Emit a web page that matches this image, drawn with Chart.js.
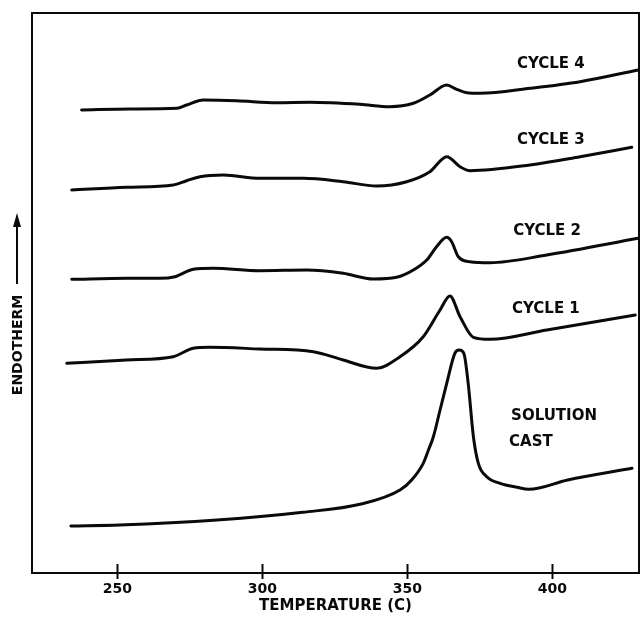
<!DOCTYPE html>
<html>
<head>
<meta charset="utf-8">
<script src="https://cdn.jsdelivr.net/npm/chart.js@4/dist/chart.umd.min.js"></script>
<style>
  html, body { margin: 0; padding: 0; background: #fff; }
  #wrap { width: 641px; height: 618px; }
</style>
</head>
<body>
<div id="wrap"><canvas id="dsc"></canvas></div>
<script>
// DSC traces: temperature (°C) and endothermic heat flow (arbitrary units)
const castT   = [234.0, 250.8, 284.4, 314.0, 334.1, 347.5, 351.5, 355.5, 357.3, 359.0, 361.3, 363.6, 366.4, 367.9, 369.5, 371.0, 372.8, 374.5, 377.4, 382.0, 387.9, 391.9, 405.3, 427.5];
const castQ   = [47, 48, 53, 60.7, 69, 83, 93, 109.7, 123, 136.3, 163, 189.7, 219.7, 223, 219.7, 189.7, 136.3, 109.7, 96.3, 89.7, 85.7, 83.7, 93, 104.7];

const cycle1T = [232.6, 253.2, 269.3, 276.2, 282.0, 299.2, 317.6, 327.9, 339.4, 347.5, 355.5, 361.3, 364.7, 368.2, 372.8, 378.5, 398.1, 428.6];
const cycle1Q = [209.7, 213, 216.3, 224.7, 225.7, 224, 221.3, 213, 204.7, 216.3, 236.3, 263, 277, 256.3, 235.7, 233.7, 243, 258];

const cycle2T = [234.3, 253.2, 264.7, 269.9, 276.2, 283.1, 299.2, 315.3, 327.9, 338.3, 346.3, 352.1, 356.7, 360.1, 363.6, 365.3, 367.6, 371.6, 378.5, 398.1, 429.6];
const cycle2Q = [293.7, 294.7, 294.7, 296.3, 303.7, 304.7, 302.3, 303, 299.7, 294, 295.7, 303, 313, 326.3, 335.7, 331.3, 316.3, 311.3, 310.3, 318, 334.7];

const cycle3T = [234.3, 253.2, 269.3, 273.9, 278.5, 286.6, 299.2, 314.1, 327.9, 339.4, 349.8, 357.8, 363.6, 368.2, 371.6, 392.3, 409.6, 427.4];
const cycle3Q = [383, 385.7, 388, 392.3, 396.3, 398, 394.7, 394.7, 391.3, 387, 391.3, 401.3, 416.3, 406.3, 402.3, 408, 416.3, 425.7];

const cycle4T = [237.7, 254.4, 270.6, 273.9, 279.7, 291.2, 305.0, 316.4, 333.7, 344.0, 352.1, 357.8, 363.6, 367.0, 370.5, 375.1, 392.3, 409.6, 429.6];
const cycle4Q = [463, 464, 464.7, 468, 473, 472.3, 470.3, 470.7, 468.7, 466.3, 469.7, 478, 488, 483.7, 480.3, 479.7, 484.7, 491.3, 503];

const seriesNames = ['SOLUTION CAST', 'CYCLE 1', 'CYCLE 2', 'CYCLE 3', 'CYCLE 4'];
const tempTicks   = [250, 300, 350, 400];

const INK = '#0a0a0a';
const LETTER = 'bold 15px "DejaVu Sans", sans-serif';

function pairs(ts, qs) { return ts.map((t, i) => ({ x: t, y: qs[i] })); }
function trace(label, ts, qs) {
  return {
    label,
    data: pairs(ts, qs),
    borderColor: INK,
    borderWidth: 3,
    pointRadius: 0,
    fill: false,
    cubicInterpolationMode: 'monotone',
    borderCapStyle: 'round',
    borderJoinStyle: 'round'
  };
}

// frame, crossing tick marks, endotherm arrow and curve captions
const decorations = {
  id: 'decorations',
  afterDraw(chart) {
    const { ctx, chartArea: a, scales: { x, y } } = chart;
    ctx.save();
    ctx.strokeStyle = INK;
    ctx.lineWidth = 2;
    ctx.beginPath();
    ctx.moveTo(a.left, a.bottom);
    ctx.lineTo(a.left, a.top);
    ctx.lineTo(a.right, a.top);
    ctx.lineTo(a.right, a.bottom);
    ctx.stroke();

    x.ticks.forEach(t => {
      const px = Math.round(x.getPixelForValue(t.value)) + 0.5;
      ctx.beginPath();
      ctx.moveTo(px, a.bottom - 9);
      ctx.lineTo(px, a.bottom + 6);
      ctx.stroke();
    });

    // vertical caption with upward arrow
    const cx = 17;
    ctx.translate(cx, 345);
    ctx.rotate(-Math.PI / 2);
    ctx.fillStyle = INK;
    ctx.font = 'bold 14px "DejaVu Sans", sans-serif';
    ctx.textAlign = 'center';
    ctx.textBaseline = 'middle';
    ctx.fillText('ENDOTHERM', 0, 1);
    ctx.setTransform(1, 0, 0, 1, 0, 0);
    ctx.lineWidth = 2;
    ctx.beginPath();
    ctx.moveTo(cx, 284);
    ctx.lineTo(cx, 224);
    ctx.stroke();
    ctx.beginPath();
    ctx.moveTo(cx, 213);
    ctx.lineTo(cx - 4, 227);
    ctx.lineTo(cx + 4, 227);
    ctx.closePath();
    ctx.fill();

    // captions next to each trace
    const captions = [
      ['CYCLE 4', 387.8, 508.5],
      ['CYCLE 3', 387.8, 433],
      ['CYCLE 2', 386.5, 342],
      ['CYCLE 1', 386.1, 264],
      ['SOLUTION', 385.8, 157],
      ['CAST', 385.1, 131]
    ];
    ctx.font = LETTER;
    ctx.textAlign = 'left';
    ctx.textBaseline = 'middle';
    captions.forEach(([txt, t, q]) => {
      ctx.fillText(txt, x.getPixelForValue(t), y.getPixelForValue(q));
    });
    ctx.restore();
  }
};

const whiteBg = {
  id: 'whiteBg',
  beforeDraw(chart) {
    const { ctx, width, height } = chart;
    ctx.save();
    ctx.fillStyle = '#fff';
    ctx.fillRect(0, 0, width, height);
    ctx.restore();
  }
};

new Chart(document.getElementById('dsc'), {
  type: 'line',
  data: {
    datasets: [
      trace(seriesNames[0], castT, castQ),
      trace(seriesNames[1], cycle1T, cycle1Q),
      trace(seriesNames[2], cycle2T, cycle2Q),
      trace(seriesNames[3], cycle3T, cycle3Q),
      trace(seriesNames[4], cycle4T, cycle4Q)
    ]
  },
  options: {
    responsive: true,
    maintainAspectRatio: false,
    animation: false,
    layout: { padding: { left: 32, right: 2, top: 13, bottom: 0 } },
    plugins: { legend: { display: false }, tooltip: { enabled: false } },
    scales: {
      x: {
        type: 'linear',
        min: 220.6,
        max: 429.9,
        afterBuildTicks(scale) { scale.ticks = tempTicks.map(v => ({ value: v })); },
        afterFit(scale) { scale.height = 45; },
        grid: { display: false, drawTicks: false },
        border: { display: true, color: INK, width: 2 },
        ticks: {
          color: INK,
          padding: 8,
          maxRotation: 0,
          font: { family: '"DejaVu Sans", sans-serif', size: 14, weight: 'bold' }
        },
        title: {
          display: true,
          text: 'TEMPERATURE (C)',
          color: INK,
          padding: { top: 0, bottom: 3 },
          font: { family: '"DejaVu Sans", sans-serif', size: 15, weight: 'bold' }
        }
      },
      y: {
        display: false,
        min: 0,
        max: 560
      }
    }
  },
  plugins: [whiteBg, decorations]
});
</script>
</body>
</html>
